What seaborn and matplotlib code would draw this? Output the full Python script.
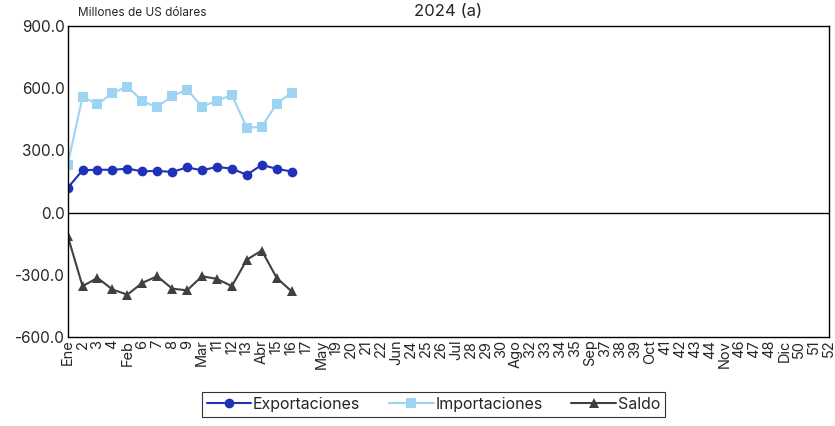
import numpy as np
import pandas as pd
import matplotlib
matplotlib.use("Agg")
import matplotlib.pyplot as plt
import seaborn as sns

# Semanas 2024
semanas = ["Ene", "2", "3", "4", "Feb", "6", "7", "8", "9", "Mar", "11", "12", "13",
           "Abr", "15", "16", "17", "May", "19", "20", "21", "22", "Jun", "24", "25",
           "26", "Jul", "28", "29", "30", "Ago", "32", "33", "34", "35", "Sep", "37",
           "38", "39", "Oct", "41", "42", "43", "44", "Nov", "46", "47", "48", "Dic",
           "50", "51", "52"]

exportaciones = [119, 204, 207, 206, 212, 199, 201, 196, 218, 204, 220, 212, 182, 230, 211, 198]
importaciones = [231, 559, 522, 577, 608, 538, 508, 563, 593, 511, 540, 567, 409, 413, 526, 578]
saldo = [-112, -355, -315, -371, -396, -339, -307, -367, -375, -307, -320, -355, -227, -183, -315, -380]

n = len(exportaciones)
df = pd.DataFrame({
    "semana": list(range(n)) * 3,
    "valor": exportaciones + importaciones + saldo,
    "serie": ["Exportaciones"] * n + ["Importaciones"] * n + ["Saldo"] * n,
})

sns.set_style("white")
plt.rcParams["font.family"] = ["Inter", "DejaVu Sans"]

fig, ax = plt.subplots(figsize=(8.35, 4.26), dpi=100)
fig.subplots_adjust(left=0.081, right=0.993, top=0.939, bottom=0.209)

colores = {"Exportaciones": "#1f32b8", "Importaciones": "#9dd3f3", "Saldo": "#404040"}
marcadores = {"Exportaciones": "o", "Importaciones": "s", "Saldo": "^"}

sns.lineplot(data=df, x="semana", y="valor", hue="serie", style="serie",
             palette=colores, markers=marcadores, dashes=False, markersize=7,
             markeredgewidth=0, linewidth=1.5, ax=ax, legend=False)

ax.axhline(0, color="black", linewidth=1)
ax.set_xlim(0, len(semanas) - 1)
ax.set_ylim(-600, 900)
ax.set_yticks(np.arange(-600, 901, 300))
ax.set_yticklabels([f"{v:.1f}" for v in np.arange(-600, 901, 300)], fontsize=11)
ax.set_xticks(range(len(semanas)))
ax.set_xticklabels(semanas, rotation=90, fontsize=10.5)
ax.tick_params(axis="both", length=0, pad=2)
ax.set_xlabel("")
ax.set_ylabel("")
for s in ax.spines.values():
    s.set_color("black")
    s.set_linewidth(1)

ax.set_title("2024 (a)", fontsize=12, pad=7)
fig.text(0.093, 0.955, "Millones de US dólares", fontsize=8.5, ha="left", va="bottom")

handles = [plt.Line2D([], [], color=colores[k], marker=marcadores[k], markersize=7,
                      markeredgewidth=0, linewidth=1.5) for k in colores]
leg = fig.legend(handles, list(colores.keys()), loc="lower center", ncol=3,
                 bbox_to_anchor=(0.519, 0.003), frameon=True, fancybox=False,
                 fontsize=11.5, handlelength=2.8, handletextpad=0.1, columnspacing=1.8,
                 borderpad=0.3)
leg.get_frame().set_edgecolor("black")
leg.get_frame().set_linewidth(0.8)

fig.savefig("out.png", dpi=100)
